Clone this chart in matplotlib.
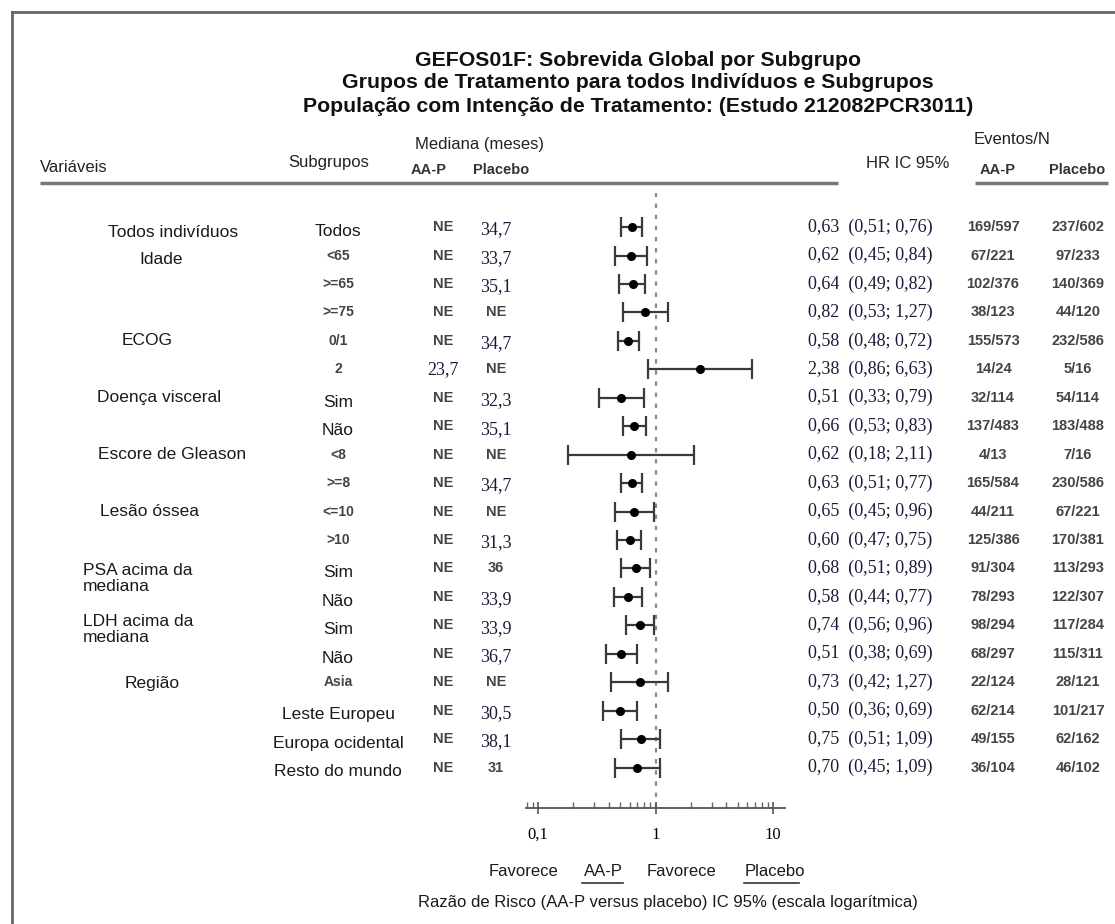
import matplotlib
matplotlib.use("Agg")
import matplotlib.pyplot as plt
import numpy as np
from matplotlib.ticker import LogLocator, FuncFormatter, NullFormatter
from matplotlib.transforms import blended_transform_factory

plt.rcParams["font.family"] = ["Liberation Sans", "DejaVu Sans"]

# ---- data ----
titles = [
    "GEFOS01F: Sobrevida Global por Subgrupo",
    "Grupos de Tratamento para todos Indivíduos e Subgrupos",
    "População com Intenção de Tratamento: (Estudo 212082PCR3011)",
]
var_labels = ["Todos indivíduos", "Idade", "ECOG", "Doença visceral",
              "Escore de Gleason", "Lesão óssea", "PSA acima da\nmediana",
              "LDH acima da\nmediana", "Região"]
var_rows = [0, 1, 4, 6, 8, 10, 12, 14, 16]
subgroups = ["Todos", "<65", ">=65", ">=75", "0/1", "2", "Sim", "Não", "<8",
             ">=8", "<=10", ">10", "Sim", "Não", "Sim", "Não", "Asia",
             "Leste Europeu", "Europa ocidental", "Resto do mundo"]
med_aap = ["NE", "NE", "NE", "NE", "NE", "23,7", "NE", "NE", "NE", "NE",
           "NE", "NE", "NE", "NE", "NE", "NE", "NE", "NE", "NE", "NE"]
med_pla = ["34,7", "33,7", "35,1", "NE", "34,7", "NE", "32,3", "35,1", "NE",
           "34,7", "NE", "31,3", "36", "33,9", "33,9", "36,7", "NE", "30,5",
           "38,1", "31"]
hr = np.array([0.63, 0.62, 0.64, 0.82, 0.58, 2.38, 0.51, 0.66, 0.62, 0.63,
               0.65, 0.60, 0.68, 0.58, 0.74, 0.51, 0.73, 0.50, 0.75, 0.70])
ci_lo = np.array([0.51, 0.45, 0.49, 0.53, 0.48, 0.86, 0.33, 0.53, 0.18, 0.51,
                  0.45, 0.47, 0.51, 0.44, 0.56, 0.38, 0.42, 0.36, 0.51, 0.45])
ci_hi = np.array([0.76, 0.84, 0.82, 1.27, 0.72, 6.63, 0.79, 0.83, 2.11, 0.77,
                  0.96, 0.75, 0.89, 0.77, 0.96, 0.69, 1.27, 0.69, 1.09, 1.09])
ev_aap = ["169/597", "67/221", "102/376", "38/123", "155/573", "14/24",
          "32/114", "137/483", "4/13", "165/584", "44/211", "125/386",
          "91/304", "78/293", "98/294", "68/297", "22/124", "62/214",
          "49/155", "36/104"]
ev_pla = ["237/602", "97/233", "140/369", "44/120", "232/586", "5/16",
          "54/114", "183/488", "7/16", "230/586", "67/221", "170/381",
          "113/293", "122/307", "117/284", "115/311", "28/121", "101/217",
          "62/162", "46/102"]

# ---- layout (pixels) ----
var_x = [108, 139, 122, 97, 98, 100, 83, 83, 125]
var_dy = [0.2, 0.15, 0.0, 0.0, 0.0, 0.0, 0.35, 0.15, 0.05]

fig = plt.figure(figsize=(11.15, 9.24), dpi=100)
bg = fig.add_axes([0, 0, 1, 1])
bg.set_xlim(0, 1115)
bg.set_ylim(924, 0)
bg.axis("off")

ax = fig.add_axes([526 / 1115, 1 - 808 / 924, (785 - 526) / 1115, (808 - 193) / 924])
ax.set_xscale("log")
ax.set_xlim(0.079, 12.6)
ax.set_ylim(20.42, -1.2)
ax.patch.set_alpha(0)

rows = np.arange(len(hr))
ax.axvline(1, color="#8a8a8a", ls=(0, (2, 3)), lw=1.6, zorder=1)
ax.errorbar(hr, rows, xerr=[hr - ci_lo, ci_hi - hr], fmt="o", color="black",
            ms=5.5, ecolor="#3a3a3a", elinewidth=1.6, capsize=7, capthick=1.6,
            zorder=3)

for side in ["top", "left", "right"]:
    ax.spines[side].set_visible(False)
ax.spines["bottom"].set_color("#555555")
ax.spines["bottom"].set_linewidth(1.3)
ax.set_yticks([])
ax.xaxis.set_major_locator(LogLocator(base=10, numticks=5))
ax.xaxis.set_minor_locator(LogLocator(base=10, subs=np.arange(2, 10), numticks=20))
ax.xaxis.set_minor_formatter(NullFormatter())
ax.xaxis.set_major_formatter(FuncFormatter(lambda v, _: f"{v:g}".replace(".", ",")))
ax.tick_params(axis="x", which="major", direction="inout", length=9,
               width=1.2, color="#555555", pad=9, labelsize=12)
ax.tick_params(axis="x", which="minor", direction="in", length=4,
               width=1.0, color="#666666")
for lab in ax.get_xticklabels():
    lab.set_fontfamily("Liberation Serif")

# rows of the table: x in pixels, y in row units
tr = blended_transform_factory(bg.transData, ax.transData)

for lab, r, x, dy in zip(var_labels, var_rows, var_x, var_dy):
    ax.text(x, r + dy, lab, transform=tr, ha="left", va="center",
            fontsize=12.5, color="#1a1a1a", linespacing=1.1, clip_on=False)

for i in rows:
    sg = subgroups[i]
    small = sg[0] in "<>0123456789" or sg == "Asia"
    ax.text(338, i + (0.0 if small else 0.15), sg, transform=tr, ha="center",
            va="center", fontsize=10 if small else 12.5,
            color="#444444" if small else "#1a1a1a",
            fontweight="bold" if small else "normal", clip_on=False)
    a = med_aap[i]
    ax.text(443, i, a, transform=tr, ha="center", va="center",
            fontsize=10.5 if a == "NE" else 13,
            family="Liberation Sans" if a == "NE" else "Liberation Serif",
            color="#444444" if a == "NE" else "#1a1a3a",
            fontweight="bold" if a == "NE" else "normal", clip_on=False)
    p = med_pla[i]
    num = p != "NE" and "," in p
    ax.text(496, i + (0.1 if num else 0), p, transform=tr, ha="center", va="center",
            fontsize=13 if num else 10.5,
            family="Liberation Serif" if num else "Liberation Sans",
            color="#1a1a3a" if num else "#444444",
            fontweight="normal" if num else "bold", clip_on=False)
    hr_txt = f"{hr[i]:.2f}  ({ci_lo[i]:.2f}; {ci_hi[i]:.2f})".replace(".", ",")
    ax.text(808, i, hr_txt, transform=tr, ha="left", va="center",
            fontsize=13, family="Liberation Serif", color="#1a1a3a",
            clip_on=False)
    ax.text(993, i, ev_aap[i], transform=tr, ha="center", va="center",
            fontsize=10.5, color="#444444", fontweight="bold", clip_on=False)
    ax.text(1078, i, ev_pla[i], transform=tr, ha="center", va="center",
            fontsize=10.5, color="#444444", fontweight="bold", clip_on=False)

# ---- titles and headers ----
for t, y in zip(titles, [60, 83, 106]):
    bg.text(638, y, t, ha="center", va="center", fontsize=15.3,
            fontweight="bold", color="#111111")

bg.text(40, 168, "Variáveis", ha="left", va="center", fontsize=12, color="#222222")
bg.text(288, 163, "Subgrupos", ha="left", va="center", fontsize=12, color="#222222")
bg.text(415, 145, "Mediana (meses)", ha="left", va="center", fontsize=12, color="#222222")
bg.text(429, 170, "AA-P", ha="center", va="center", fontsize=10.5, color="#333333", fontweight="bold")
bg.text(501, 170, "Placebo", ha="center", va="center", fontsize=10.5, color="#333333", fontweight="bold")
bg.text(908, 163, "HR IC 95%", ha="center", va="center", fontsize=12, color="#222222")
bg.text(1012, 140, "Eventos/N", ha="center", va="center", fontsize=12, color="#222222")
bg.text(998, 170, "AA-P", ha="center", va="center", fontsize=10.5, color="#333333", fontweight="bold")
bg.text(1077, 170, "Placebo", ha="center", va="center", fontsize=10.5, color="#333333", fontweight="bold")

bg.plot([40, 838], [183, 183], color="#777777", lw=2.5, solid_capstyle="butt")
bg.plot([975, 1108], [183, 183], color="#777777", lw=2.5, solid_capstyle="butt")

# frame of the scanned page
bg.plot([12, 1115], [12, 12], color="#666666", lw=2)
bg.plot([12, 12], [12, 924], color="#666666", lw=2)

# ---- footer ----
bg.text(523, 871, "Favorece", ha="center", va="center", fontsize=12, color="#1a1a1a")
bg.text(603, 871, "AA-P", ha="center", va="center", fontsize=12, color="#1a1a1a")
bg.text(682, 871, "Favorece", ha="center", va="center", fontsize=12, color="#1a1a1a")
bg.text(775, 871, "Placebo", ha="center", va="center", fontsize=12, color="#1a1a1a")
bg.plot([582, 623], [883, 883], color="#333333", lw=1.2)
bg.plot([744, 799], [883, 883], color="#333333", lw=1.2)
bg.text(668, 903, "Razão de Risco (AA-P versus placebo) IC 95% (escala logarítmica)",
        ha="center", va="center", fontsize=12, color="#1a1a1a")

fig.savefig("out.png", dpi=100)
